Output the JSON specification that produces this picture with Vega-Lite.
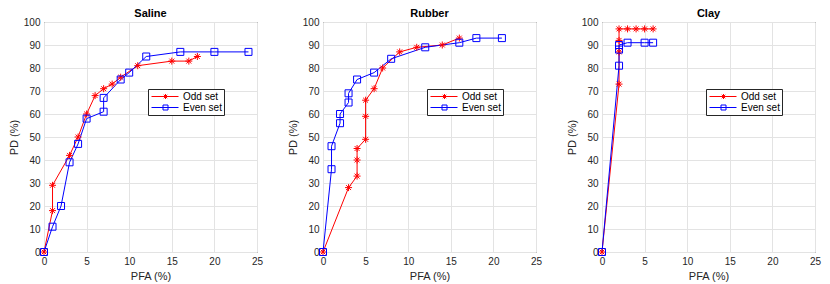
{
  "$schema": "https://vega.github.io/schema/vega-lite/v6.json",
  "background": "white",
  "padding": {"left": 7, "top": 7, "right": 0, "bottom": 0},
  "autosize": {"type": "pad"},
  "bounds": "flush",
  "spacing": 66,
  "config": {
    "font": "Liberation Sans",
    "view": {"stroke": "#262626", "strokeWidth": 1},
    "axis": {
      "grid": true, "gridColor": "#e3e3e3", "gridWidth": 1,
      "domain": false, "ticks": false, "labelPadding": 4,
      "labelOverlap": false, "labelFlush": false,
      "labelColor": "#262626", "labelFontSize": 10, "labelFont": "Liberation Sans",
      "titleColor": "#262626", "titleFontSize": 11, "titleFontWeight": "normal", "titleFont": "Liberation Sans"
    },
    "title": {"fontSize": 11, "fontWeight": "bold", "color": "#000000", "offset": -2, "font": "Liberation Sans"},
    "legend": {
      "orient": "none", "legendX": 104, "legendY": 67,
      "strokeColor": "#262626", "fillColor": "white", "padding": 2, "rowPadding": 0,
      "labelFontSize": 10, "labelColor": "#000000", "labelFont": "Liberation Sans",
      "symbolSize": 100, "symbolStrokeWidth": 1, "labelOffset": 22, "title": null
    }
  },
  "datasets": {
    "roc": [
      {"panel": "Saline", "set": "Odd set", "i": 0, "pfa": 0, "pd": 0},
      {"panel": "Saline", "set": "Odd set", "i": 1, "pfa": 1, "pd": 18},
      {"panel": "Saline", "set": "Odd set", "i": 2, "pfa": 1, "pd": 29},
      {"panel": "Saline", "set": "Odd set", "i": 3, "pfa": 3, "pd": 42},
      {"panel": "Saline", "set": "Odd set", "i": 4, "pfa": 4, "pd": 50},
      {"panel": "Saline", "set": "Odd set", "i": 5, "pfa": 5, "pd": 60},
      {"panel": "Saline", "set": "Odd set", "i": 6, "pfa": 6, "pd": 68},
      {"panel": "Saline", "set": "Odd set", "i": 7, "pfa": 7, "pd": 71},
      {"panel": "Saline", "set": "Odd set", "i": 8, "pfa": 8, "pd": 73},
      {"panel": "Saline", "set": "Odd set", "i": 9, "pfa": 9, "pd": 76},
      {"panel": "Saline", "set": "Odd set", "i": 10, "pfa": 11, "pd": 81},
      {"panel": "Saline", "set": "Odd set", "i": 11, "pfa": 15, "pd": 83},
      {"panel": "Saline", "set": "Odd set", "i": 12, "pfa": 17, "pd": 83},
      {"panel": "Saline", "set": "Odd set", "i": 13, "pfa": 18, "pd": 85},
      {"panel": "Saline", "set": "Even set", "i": 0, "pfa": 0, "pd": 0},
      {"panel": "Saline", "set": "Even set", "i": 1, "pfa": 1, "pd": 11},
      {"panel": "Saline", "set": "Even set", "i": 2, "pfa": 2, "pd": 20},
      {"panel": "Saline", "set": "Even set", "i": 3, "pfa": 3, "pd": 39},
      {"panel": "Saline", "set": "Even set", "i": 4, "pfa": 4, "pd": 47},
      {"panel": "Saline", "set": "Even set", "i": 5, "pfa": 5, "pd": 58},
      {"panel": "Saline", "set": "Even set", "i": 6, "pfa": 7, "pd": 61},
      {"panel": "Saline", "set": "Even set", "i": 7, "pfa": 7, "pd": 67},
      {"panel": "Saline", "set": "Even set", "i": 8, "pfa": 9, "pd": 75},
      {"panel": "Saline", "set": "Even set", "i": 9, "pfa": 10, "pd": 78},
      {"panel": "Saline", "set": "Even set", "i": 10, "pfa": 12, "pd": 85},
      {"panel": "Saline", "set": "Even set", "i": 11, "pfa": 16, "pd": 87},
      {"panel": "Saline", "set": "Even set", "i": 12, "pfa": 20, "pd": 87},
      {"panel": "Saline", "set": "Even set", "i": 13, "pfa": 24, "pd": 87},
      {"panel": "Rubber", "set": "Odd set", "i": 0, "pfa": 0, "pd": 0},
      {"panel": "Rubber", "set": "Odd set", "i": 1, "pfa": 3, "pd": 28},
      {"panel": "Rubber", "set": "Odd set", "i": 2, "pfa": 4, "pd": 33},
      {"panel": "Rubber", "set": "Odd set", "i": 3, "pfa": 4, "pd": 40},
      {"panel": "Rubber", "set": "Odd set", "i": 4, "pfa": 4, "pd": 45},
      {"panel": "Rubber", "set": "Odd set", "i": 5, "pfa": 5, "pd": 49},
      {"panel": "Rubber", "set": "Odd set", "i": 6, "pfa": 5, "pd": 59},
      {"panel": "Rubber", "set": "Odd set", "i": 7, "pfa": 5, "pd": 66},
      {"panel": "Rubber", "set": "Odd set", "i": 8, "pfa": 6, "pd": 71},
      {"panel": "Rubber", "set": "Odd set", "i": 9, "pfa": 7, "pd": 80},
      {"panel": "Rubber", "set": "Odd set", "i": 10, "pfa": 9, "pd": 87},
      {"panel": "Rubber", "set": "Odd set", "i": 11, "pfa": 11, "pd": 89},
      {"panel": "Rubber", "set": "Odd set", "i": 12, "pfa": 14, "pd": 90},
      {"panel": "Rubber", "set": "Odd set", "i": 13, "pfa": 16, "pd": 93},
      {"panel": "Rubber", "set": "Even set", "i": 0, "pfa": 0, "pd": 0},
      {"panel": "Rubber", "set": "Even set", "i": 1, "pfa": 1, "pd": 36},
      {"panel": "Rubber", "set": "Even set", "i": 2, "pfa": 1, "pd": 46},
      {"panel": "Rubber", "set": "Even set", "i": 3, "pfa": 2, "pd": 56},
      {"panel": "Rubber", "set": "Even set", "i": 4, "pfa": 2, "pd": 60},
      {"panel": "Rubber", "set": "Even set", "i": 5, "pfa": 3, "pd": 65},
      {"panel": "Rubber", "set": "Even set", "i": 6, "pfa": 3, "pd": 69},
      {"panel": "Rubber", "set": "Even set", "i": 7, "pfa": 4, "pd": 75},
      {"panel": "Rubber", "set": "Even set", "i": 8, "pfa": 6, "pd": 78},
      {"panel": "Rubber", "set": "Even set", "i": 9, "pfa": 8, "pd": 84},
      {"panel": "Rubber", "set": "Even set", "i": 10, "pfa": 12, "pd": 89},
      {"panel": "Rubber", "set": "Even set", "i": 11, "pfa": 16, "pd": 91},
      {"panel": "Rubber", "set": "Even set", "i": 12, "pfa": 18, "pd": 93},
      {"panel": "Rubber", "set": "Even set", "i": 13, "pfa": 21, "pd": 93},
      {"panel": "Clay", "set": "Odd set", "i": 0, "pfa": 0, "pd": 0},
      {"panel": "Clay", "set": "Odd set", "i": 1, "pfa": 2, "pd": 73},
      {"panel": "Clay", "set": "Odd set", "i": 2, "pfa": 2, "pd": 87},
      {"panel": "Clay", "set": "Odd set", "i": 3, "pfa": 2, "pd": 92},
      {"panel": "Clay", "set": "Odd set", "i": 4, "pfa": 2, "pd": 97},
      {"panel": "Clay", "set": "Odd set", "i": 5, "pfa": 3, "pd": 97},
      {"panel": "Clay", "set": "Odd set", "i": 6, "pfa": 4, "pd": 97},
      {"panel": "Clay", "set": "Odd set", "i": 7, "pfa": 5, "pd": 97},
      {"panel": "Clay", "set": "Odd set", "i": 8, "pfa": 6, "pd": 97},
      {"panel": "Clay", "set": "Even set", "i": 0, "pfa": 0, "pd": 0},
      {"panel": "Clay", "set": "Even set", "i": 1, "pfa": 2, "pd": 81},
      {"panel": "Clay", "set": "Even set", "i": 2, "pfa": 2, "pd": 88},
      {"panel": "Clay", "set": "Even set", "i": 3, "pfa": 2, "pd": 90},
      {"panel": "Clay", "set": "Even set", "i": 4, "pfa": 3, "pd": 91},
      {"panel": "Clay", "set": "Even set", "i": 5, "pfa": 5, "pd": 91},
      {"panel": "Clay", "set": "Even set", "i": 6, "pfa": 6, "pd": 91}
    ]
  },
  "hconcat": [
    {
      "title": "Saline", "width": 213, "height": 230,
      "data": {"name": "roc"},
      "transform": [{"filter": "datum.panel === 'Saline'"}],
      "encoding": {
        "x": {"field": "pfa", "type": "quantitative", "title": "PFA (%)", "scale": {"domain": [0, 25], "nice": false}, "axis": {"values": [0, 5, 10, 15, 20, 25]}},
        "y": {"field": "pd", "type": "quantitative", "title": "PD (%)", "scale": {"domain": [0, 100], "nice": false}, "axis": {"values": [0, 10, 20, 30, 40, 50, 60, 70, 80, 90, 100]}}
      },
      "layer": [
        {"mark": {"type": "line", "strokeWidth": 1},
         "encoding": {
           "order": {"field": "i"},
           "color": {"field": "set", "type": "nominal", "scale": {"domain": ["Odd set", "Even set"], "range": ["#ff0000", "#0000ff"]},
             "legend": {"encode": {"symbols": {"update": {"shape": {"signal": "datum.value === 'Odd set' ? 'M-0.8,0H4.6M2,-0.5V0.5M1.5,0H2.5M1.65,-0.35L2.35,0.35M1.65,0.35L2.35,-0.35' : 'M-0.8,0H4.6M1.5,-0.5H2.5V0.5H1.5Z'"}, "fill": {"value": "transparent"}, "strokeWidth": {"value": 1}}}}}}
         }},
        {"transform": [{"filter": "datum.set === 'Odd set'"}],
         "mark": {"type": "point", "filled": false, "strokeWidth": 1, "size": 49, "opacity": 1, "color": "#ff0000", "shape": "M-1,0H1M0,-1V1M-0.7,-0.7L0.7,0.7M-0.7,0.7L0.7,-0.7"},
         "encoding": {}},
        {"transform": [{"filter": "datum.set === 'Even set'"}],
         "mark": {"type": "point", "filled": false, "strokeWidth": 1, "size": 49, "opacity": 1, "color": "#0000ff", "shape": "M-1,-1H1V1H-1Z"},
         "encoding": {}}
      ]
    },
    {
      "title": "Rubber", "width": 213, "height": 230,
      "data": {"name": "roc"},
      "transform": [{"filter": "datum.panel === 'Rubber'"}],
      "encoding": {
        "x": {"field": "pfa", "type": "quantitative", "title": "PFA (%)", "scale": {"domain": [0, 25], "nice": false}, "axis": {"values": [0, 5, 10, 15, 20, 25]}},
        "y": {"field": "pd", "type": "quantitative", "title": "PD (%)", "scale": {"domain": [0, 100], "nice": false}, "axis": {"values": [0, 10, 20, 30, 40, 50, 60, 70, 80, 90, 100]}}
      },
      "layer": [
        {"mark": {"type": "line", "strokeWidth": 1},
         "encoding": {
           "order": {"field": "i"},
           "color": {"field": "set", "type": "nominal", "scale": {"domain": ["Odd set", "Even set"], "range": ["#ff0000", "#0000ff"]},
             "legend": {"encode": {"symbols": {"update": {"shape": {"signal": "datum.value === 'Odd set' ? 'M-0.8,0H4.6M2,-0.5V0.5M1.5,0H2.5M1.65,-0.35L2.35,0.35M1.65,0.35L2.35,-0.35' : 'M-0.8,0H4.6M1.5,-0.5H2.5V0.5H1.5Z'"}, "fill": {"value": "transparent"}, "strokeWidth": {"value": 1}}}}}}
         }},
        {"transform": [{"filter": "datum.set === 'Odd set'"}],
         "mark": {"type": "point", "filled": false, "strokeWidth": 1, "size": 49, "opacity": 1, "color": "#ff0000", "shape": "M-1,0H1M0,-1V1M-0.7,-0.7L0.7,0.7M-0.7,0.7L0.7,-0.7"},
         "encoding": {}},
        {"transform": [{"filter": "datum.set === 'Even set'"}],
         "mark": {"type": "point", "filled": false, "strokeWidth": 1, "size": 49, "opacity": 1, "color": "#0000ff", "shape": "M-1,-1H1V1H-1Z"},
         "encoding": {}}
      ]
    },
    {
      "title": "Clay", "width": 213, "height": 230,
      "data": {"name": "roc"},
      "transform": [{"filter": "datum.panel === 'Clay'"}],
      "encoding": {
        "x": {"field": "pfa", "type": "quantitative", "title": "PFA (%)", "scale": {"domain": [0, 25], "nice": false}, "axis": {"values": [0, 5, 10, 15, 20, 25]}},
        "y": {"field": "pd", "type": "quantitative", "title": "PD (%)", "scale": {"domain": [0, 100], "nice": false}, "axis": {"values": [0, 10, 20, 30, 40, 50, 60, 70, 80, 90, 100]}}
      },
      "layer": [
        {"mark": {"type": "line", "strokeWidth": 1},
         "encoding": {
           "order": {"field": "i"},
           "color": {"field": "set", "type": "nominal", "scale": {"domain": ["Odd set", "Even set"], "range": ["#ff0000", "#0000ff"]},
             "legend": {"encode": {"symbols": {"update": {"shape": {"signal": "datum.value === 'Odd set' ? 'M-0.8,0H4.6M2,-0.5V0.5M1.5,0H2.5M1.65,-0.35L2.35,0.35M1.65,0.35L2.35,-0.35' : 'M-0.8,0H4.6M1.5,-0.5H2.5V0.5H1.5Z'"}, "fill": {"value": "transparent"}, "strokeWidth": {"value": 1}}}}}}
         }},
        {"transform": [{"filter": "datum.set === 'Odd set'"}],
         "mark": {"type": "point", "filled": false, "strokeWidth": 1, "size": 49, "opacity": 1, "color": "#ff0000", "shape": "M-1,0H1M0,-1V1M-0.7,-0.7L0.7,0.7M-0.7,0.7L0.7,-0.7"},
         "encoding": {}},
        {"transform": [{"filter": "datum.set === 'Even set'"}],
         "mark": {"type": "point", "filled": false, "strokeWidth": 1, "size": 49, "opacity": 1, "color": "#0000ff", "shape": "M-1,-1H1V1H-1Z"},
         "encoding": {}}
      ]
    }
  ],
  "resolve": {"legend": {"color": "independent"}, "scale": {"color": "independent"}}
}
